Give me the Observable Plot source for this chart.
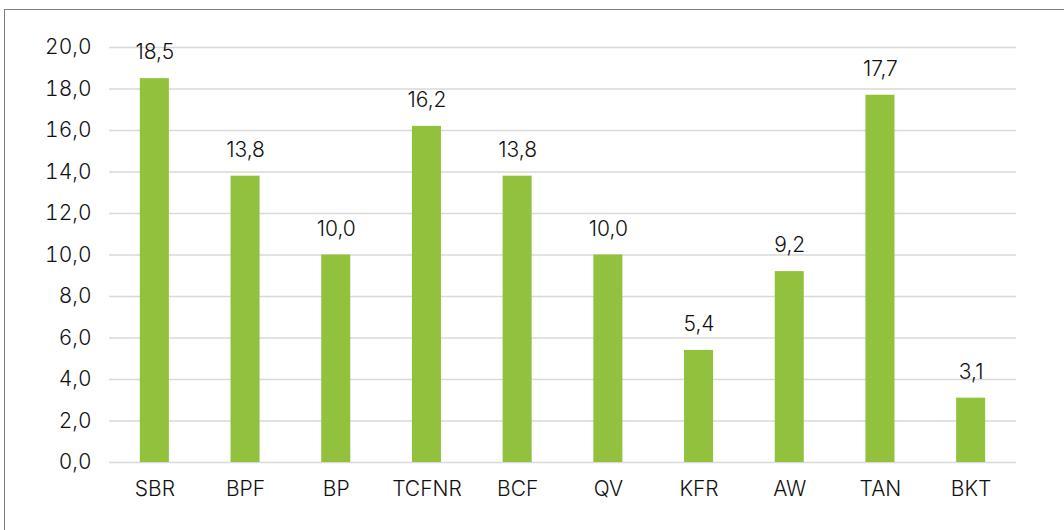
<!DOCTYPE html>
<html>
<head>
<meta charset="utf-8">
<script src="https://cdn.jsdelivr.net/npm/d3@7"></script>
<script src="https://cdn.jsdelivr.net/npm/@observablehq/plot@0.6"></script>
<style>
  html, body { margin: 0; padding: 0; background: #fff; overflow: hidden; }
  #wrap { position: relative; width: 1064px; height: 530px; }
  #border { position: absolute; left: 4px; top: 9px; width: 1100px; height: 600px; border: 1px solid #7f7f7f; box-sizing: border-box; pointer-events: none; }
  #chart { position: absolute; left: 0; top: 0; }
  #chart text { font-weight: 300; }
</style>
</head>
<body>
<div id="wrap"><div id="chart"></div><div id="border"></div></div>
<script>
const categories = ["SBR", "BPF", "BP", "TCFNR", "BCF", "QV", "KFR", "AW", "TAN", "BKT"];
const values = [18.5, 13.8, 10.0, 16.2, 13.8, 10.0, 5.4, 9.2, 17.7, 3.1];
const yTicks = [0, 2, 4, 6, 8, 10, 12, 14, 16, 18, 20];

const data = categories.map((c, i) => ({cat: c, val: values[i]}));
const fmt = v => v.toFixed(1).replace(".", ",");

const chart = Plot.plot({
  width: 1064,
  height: 530,
  marginLeft: 109,
  marginRight: 48,
  marginTop: 47,
  marginBottom: 68,
  style: {fontFamily: "Inter, 'Open Sans', sans-serif", fontSize: "21px", color: "#111", background: "transparent"},
  x: {domain: categories, paddingInner: 0.68, paddingOuter: 0.34, round: false, label: null},
  y: {domain: [0, 20], label: null},
  marks: [
    Plot.gridY(yTicks, {stroke: "#d9d9d9", strokeOpacity: 1, strokeWidth: 1.5}),
    Plot.barY(data, {x: "cat", y: "val", fill: "#92c13e"}),
    Plot.axisY(yTicks, {tickSize: 0, tickPadding: 18, tickFormat: fmt, fontSize: 21, label: null}),
    Plot.axisX({tickSize: 0, tickPadding: 19, fontSize: 21, label: null}),
    Plot.text(data, {x: "cat", y: "val", text: d => fmt(d.val), dy: -26, fontSize: 21, fill: "#111"})
  ]
});
document.getElementById("chart").appendChild(chart);
</script>
</body>
</html>
